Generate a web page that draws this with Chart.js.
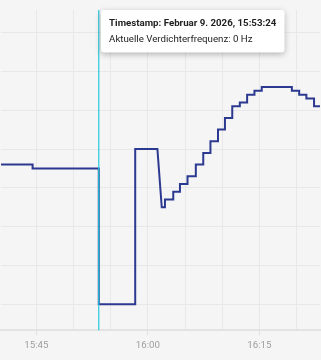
<!DOCTYPE html>
<html>
<head>
<meta charset="utf-8">
<script src="https://cdn.jsdelivr.net/npm/chart.js@4.4.1/dist/chart.umd.min.js"></script>
<style>
  html, body { margin: 0; padding: 0; background: #f5f5f5; }
  #c { display: block; }
</style>
</head>
<body>
<canvas id="c" width="321" height="360"></canvas>
<script>
// ---- data ----
const dateLabel = "Februar 9. 2026";
const seriesLabel = "Aktuelle Verdichterfrequenz";
const unit = "Hz";
// vertices of the recorded compressor frequency trace (time, Hz)
const times = [
  "15:40:00","15:44:30","15:44:30","15:53:24","15:53:24","15:58:18","15:58:18","16:01:17",
  "16:01:52","16:02:18","16:02:18","16:03:25","16:03:25","16:04:19","16:04:19","16:05:20",
  "16:05:20","16:06:27","16:06:27","16:07:27","16:07:27","16:08:25","16:08:25","16:09:26",
  "16:09:26","16:10:22","16:10:22","16:11:21","16:11:21","16:12:22","16:12:22","16:13:21",
  "16:13:21","16:14:20","16:14:20","16:15:19","16:15:19","16:19:22","16:19:22","16:20:21",
  "16:20:21","16:21:19","16:21:19","16:22:21","16:22:21","16:24:00"
];
const hz = [
  36, 36, 35, 35, 0, 0, 40, 40,
  25, 25, 27, 27, 29, 29, 31, 31,
  33, 33, 36, 36, 39, 39, 42, 42,
  45, 45, 48, 48, 51, 51, 52, 52,
  54, 54, 55, 55, 56, 56, 55, 55,
  54, 54, 53, 53, 51, 51
];
const xTickLabels = ["15:45", "16:00", "16:15"];
const activeTime = "15:53:24";
const activeValue = 0;
const xRange = ["15:40:15", "16:23:09"];
const yRange = [-6.7, 75.8];
const yStep = 10;
const xStep = 5; // minutes

// ---- helpers ----
function toMin(s) { const p = s.split(":").map(Number); return p[0]*60 + p[1] + (p[2]||0)/60; }
function fmtHM(m) { const h = Math.floor(m/60), mm = Math.round(m - h*60); return h + ":" + String(mm).padStart(2, "0"); }
function stepTicks(min, max, step) {
  const out = [];
  for (let v = Math.ceil(min/step)*step; v <= max + 1e-9; v += step) out.push({ value: v });
  return out;
}

const points = times.map((t, i) => ({ x: toMin(t), y: hz[i], t: t }));
const activeIndex = points.findIndex(p => p.t === activeTime && p.y === activeValue);

// tooltip positioner: top of chart area, just right of the active point
Chart.Tooltip.positioners.topRight = function(elements) {
  if (!elements.length) return false;
  const el = elements[0].element;
  return { x: el.x + 2.7 + 3, y: this.chart.chartArea.top };
};

const crosshair = {
  id: "crosshair",
  afterDatasetsDraw(chart) {
    const act = chart.getActiveElements();
    if (!act.length) return;
    const x = act[0].element.x;
    const { top, bottom } = chart.chartArea;
    const ctx = chart.ctx;
    ctx.save();
    ctx.strokeStyle = "rgb(38,200,222)";
    ctx.lineWidth = 1.2;
    ctx.beginPath();
    ctx.moveTo(x, top);
    ctx.lineTo(x, bottom);
    ctx.stroke();
    ctx.restore();
  }
};

const tooltipShadow = {
  id: "tooltipShadow",
  beforeTooltipDraw(chart, args) {
    const tt = args.tooltip;
    if (!tt || !tt.opacity) return;
    const ctx = chart.ctx;
    ctx.save();
    ctx.shadowColor = "rgba(0,0,0,0.28)";
    ctx.shadowBlur = 6;
    ctx.shadowOffsetY = 2;
    ctx.fillStyle = "#ffffff";
    ctx.beginPath();
    ctx.roundRect(tt.x, tt.y, tt.width, tt.height, 3);
    ctx.fill();
    ctx.restore();
  }
};

const labeled = v => xTickLabels.includes(fmtHM(v));

const chart = new Chart(document.getElementById("c"), {
  type: "line",
  data: {
    datasets: [{
      label: seriesLabel,
      data: points,
      borderColor: "#2c3990",
      borderWidth: 2,
      borderJoinStyle: "miter",
      pointRadius: 0,
      pointHoverRadius: 0,
      tension: 0,
      fill: false
    }]
  },
  options: {
    responsive: false,
    animation: false,
    layout: { padding: { top: 10, bottom: 5, left: 0, right: 0 } },
    interaction: { mode: "nearest", intersect: false },
    events: [],
    plugins: {
      legend: { display: false },
      tooltip: {
        enabled: true,
        animation: false,
        position: "topRight",
        xAlign: "left",
        yAlign: "top",
        caretSize: 0,
        caretPadding: 0,
        cornerRadius: 3,
        backgroundColor: "#ffffff",
        titleColor: "#212121",
        bodyColor: "#212121",
        titleFont: { family: "Roboto", size: 9.7, weight: "bold" },
        bodyFont: { family: "Roboto", size: 9.7 },
        padding: { top: 8, bottom: 7, left: 8, right: 8 },
        titleMarginBottom: 4,
        displayColors: false,
        borderWidth: 0,
        callbacks: {
          title: items => "Timestamp: " + dateLabel + ", " + items[0].raw.t,
          label: item => seriesLabel + ": " + item.raw.y + " " + unit
        }
      }
    },
    scales: {
      x: {
        type: "linear",
        min: toMin(xRange[0]),
        max: toMin(xRange[1]),
        afterBuildTicks: s => { s.ticks = stepTicks(s.min, s.max, xStep); },
        ticks: {
          autoSkip: false,
          maxRotation: 0,
          padding: 4,
          color: "#9e9e9e",
          font: { family: "Roboto", size: 9.7 },
          callback: v => labeled(v) ? fmtHM(v) : ""
        },
        grid: {
          color: "#e8e8e8",
          lineWidth: 1,
          drawTicks: true,
          tickLength: 5,
          tickColor: c => (c.tick && labeled(c.tick.value)) ? "#e3e3e3" : "rgba(0,0,0,0)"
        },
        border: { display: true, color: "#e3e3e3", width: 2 }
      },
      y: {
        type: "linear",
        min: yRange[0],
        max: yRange[1],
        afterBuildTicks: s => { s.ticks = stepTicks(s.min, s.max, yStep); },
        ticks: { display: false },
        grid: { color: "#e8e8e8", lineWidth: 1, drawTicks: false },
        border: { display: false }
      }
    }
  },
  plugins: [crosshair, tooltipShadow]
});

const act = [{ datasetIndex: 0, index: activeIndex }];
chart.setActiveElements(act);
chart.tooltip.setActiveElements(act, { x: 0, y: 0 });
chart.update("none");
</script>
</body>
</html>
